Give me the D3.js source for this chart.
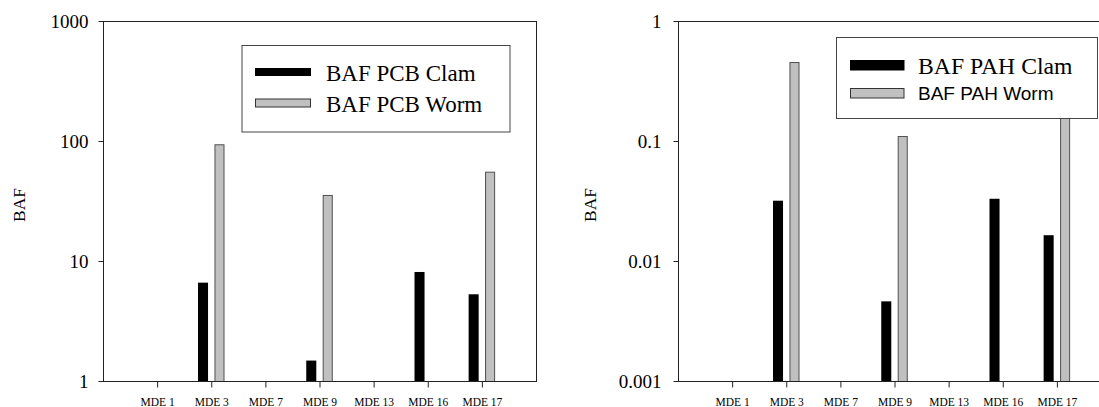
<!DOCTYPE html>
<html>
<head>
<meta charset="utf-8">
<script src="https://cdn.jsdelivr.net/npm/d3@7"></script>
<style>
  html, body { margin: 0; padding: 0; background: #fff; }
  svg { display: block; }
</style>
</head>
<body>
<svg id="chart" width="1099" height="407"></svg>
<script>
// Sampling stations along the x axis
const stations = ["MDE 1", "MDE 3", "MDE 7", "MDE 9", "MDE 13", "MDE 16", "MDE 17"];

// Bioaccumulation factors for PCBs (null = not measured)
const pcbClam = [null, 6.6, null, 1.48, null, 8.1, 5.28];
const pcbWorm = [null, 93.9, null, 35.5, null, null, 55.5];

// Bioaccumulation factors for PAHs (null = not measured)
const pahClam = [null, 0.0318, null, 0.00461, null, 0.0330, 0.0164];
const pahWorm = [null, 0.455, null, 0.110, null, null, 0.35];

// Axis ticks
const pcbTicks = [1, 10, 100, 1000];
const pahTicks = [0.001, 0.01, 0.1, 1];

const svg = d3.select("#chart");
const serif = "'Liberation Serif', 'Times New Roman', serif";
const sans = "'Liberation Sans', Arial, sans-serif";

function panel(opts) {
  const { x0, x1, top, bottom, domain, ticks, clam, worm, legend, labelPad, yLabelX } = opts;

  const x = d3.scalePoint().domain(stations).range([x0, x1]).padding(1);
  const y = d3.scaleLog().domain(domain).range([bottom, top]);
  const sub = d3.scaleBand().domain(["clam", "worm"]).range([-13.25, 13.25]).paddingInner(0.39);

  const g = svg.append("g");

  // Bars
  const rows = stations.map((s, i) => ({ s, clam: clam[i], worm: worm[i] }));
  const bars = [];
  rows.forEach(r => {
    if (r.clam != null) bars.push({ s: r.s, k: "clam", v: r.clam });
    if (r.worm != null) bars.push({ s: r.s, k: "worm", v: r.worm });
  });
  g.selectAll("rect.bar").data(bars).join("rect")
    .attr("class", "bar")
    .attr("x", d => x(d.s) + sub(d.k) + (d.k === "worm" ? 0.5 : 0))
    .attr("width", d => sub.bandwidth() - (d.k === "worm" ? 1 : 0))
    .attr("y", d => y(d.v) + (d.k === "worm" ? 0.5 : 0))
    .attr("height", d => y(domain[0]) - y(d.v))
    .attr("fill", d => d.k === "clam" ? "#000" : "#c0c0c0")
    .attr("stroke", d => d.k === "clam" ? "none" : "#505050")
    .attr("stroke-width", 1);

  // Frame
  g.append("rect")
    .attr("x", x0 + 0.5).attr("y", top + 0.5)
    .attr("width", x1 - x0).attr("height", bottom - top)
    .attr("fill", "none").attr("stroke", "#222").attr("stroke-width", 1);

  // Y axis
  const ya = g.append("g").attr("transform", `translate(${x0 + 0.5},0)`)
    .call(d3.axisLeft(y).tickValues(ticks).tickFormat(d => String(d))
      .tickSizeInner(5).tickSizeOuter(0).tickPadding(labelPad));
  ya.select(".domain").remove();
  ya.selectAll("line").attr("stroke", "#222");
  ya.selectAll("text").style("font-family", serif).style("font-size", "19px").attr("fill", "#000");

  // X axis
  const xa = g.append("g").attr("transform", `translate(0,${bottom + 0.5})`)
    .call(d3.axisBottom(x).tickSizeInner(6).tickSizeOuter(0).tickPadding(10));
  xa.select(".domain").remove();
  xa.selectAll("line").attr("stroke", "#222");
  xa.selectAll("text").style("font-family", serif).style("font-size", "11.5px").attr("fill", "#000");

  // Y axis title
  g.append("text")
    .attr("transform", `translate(${yLabelX},${(top + bottom) / 2 + 4}) rotate(-90)`)
    .attr("text-anchor", "middle")
    .style("font-family", serif).style("font-size", "17.5px")
    .text("BAF");

  // Legend
  const L = legend;
  const lg = g.append("g");
  lg.append("rect")
    .attr("x", L.x + 0.5).attr("y", L.y + 0.5).attr("width", L.w).attr("height", L.h)
    .attr("fill", "#fff").attr("stroke", "#444").attr("stroke-width", 1);
  lg.append("rect")
    .attr("x", L.sx).attr("y", L.r1y).attr("width", L.sw).attr("height", L.r1h)
    .attr("fill", "#000");
  lg.append("rect")
    .attr("x", L.sx + 0.5).attr("y", L.r2y + 0.5).attr("width", L.sw - 1).attr("height", L.r2h - 1)
    .attr("fill", "#c0c0c0").attr("stroke", "#333");
  lg.append("text").attr("x", L.tx).attr("y", L.b1)
    .style("font-family", serif).style("font-size", L.f1 + "px").text(L.t1);
  lg.append("text").attr("x", L.tx).attr("y", L.b2)
    .style("font-family", L.font2).style("font-size", L.f2 + "px").text(L.t2);
}

panel({
  x0: 103, x1: 536, top: 21, bottom: 381,
  domain: [1, 1000], ticks: pcbTicks, clam: pcbClam, worm: pcbWorm,
  labelPad: 10, yLabelX: 25,
  legend: {
    x: 241.5, y: 45, w: 268, h: 86.5,
    sx: 255, sw: 56, r1y: 68, r1h: 8, r2y: 98.5, r2h: 9,
    tx: 326, b1: 81, b2: 112,
    f1: 23, f2: 23, font2: serif,
    t1: "BAF PCB Clam", t2: "BAF PCB Worm"
  }
});

panel({
  x0: 678, x1: 1111, top: 21, bottom: 381,
  domain: [0.001, 1], ticks: pahTicks, clam: pahClam, worm: pahWorm,
  labelPad: 12, yLabelX: 596,
  legend: {
    x: 836, y: 37, w: 261, h: 81,
    sx: 850, sw: 54.5, r1y: 60, r1h: 10.5, r2y: 88, r2h: 10.5,
    tx: 918, b1: 74, b2: 100,
    f1: 23.7, f2: 19, font2: sans,
    t1: "BAF PAH Clam", t2: "BAF PAH Worm"
  }
});
</script>
</body>
</html>
